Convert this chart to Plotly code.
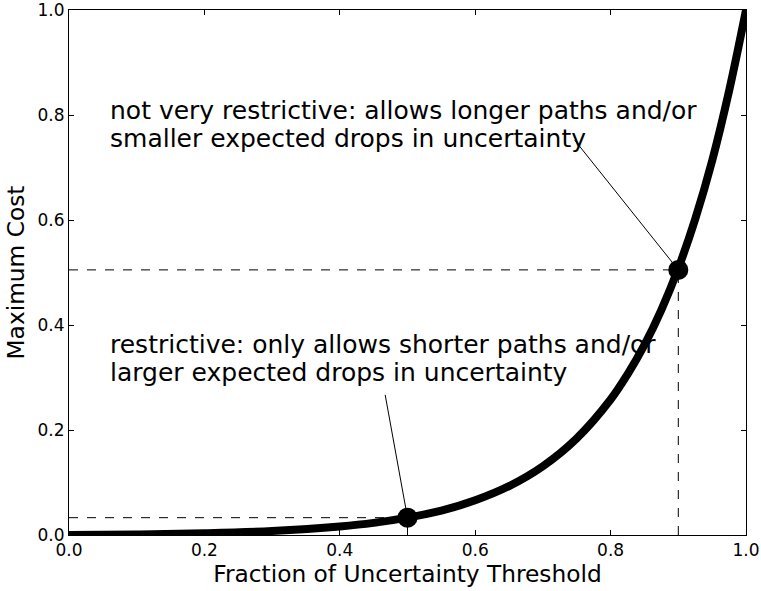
import plotly.graph_objects as go

# Curve values
frac = [0.0, 0.1, 0.2, 0.3, 0.4, 0.45, 0.5, 0.55, 0.6, 0.65, 0.7, 0.75, 0.8, 0.825, 0.85, 0.875, 0.9, 0.925, 0.95, 0.975, 1.0]
cost = [0.0, 0.0011, 0.0034, 0.0077, 0.0163, 0.0231, 0.0331, 0.0464, 0.0661, 0.0931, 0.131, 0.184, 0.258, 0.306, 0.362, 0.429, 0.508, 0.602, 0.713, 0.846, 1.0]

pts_x = [0.5, 0.9]
pts_y = [0.033, 0.505]

label1_lines = ["not very restrictive: allows longer paths and/or",
                "smaller expected drops in uncertainty"]
label2_lines = ["restrictive: only allows shorter paths and/or",
                "larger expected drops in uncertainty"]

x_ticks = [0.0, 0.2, 0.4, 0.6, 0.8, 1.0]
y_ticks = [0.0, 0.2, 0.4, 0.6, 0.8, 1.0]

FONT = "DejaVu Sans"

fig = go.Figure()
fig.add_trace(go.Scatter(x=frac, y=cost, mode="lines",
                         line=dict(color="black", width=8, shape="spline"),
                         showlegend=False, hoverinfo="skip"))
fig.add_trace(go.Scatter(x=pts_x, y=pts_y, mode="markers",
                         marker=dict(color="black", size=20),
                         showlegend=False, hoverinfo="skip"))

shapes = []
for px, py in zip(pts_x, pts_y):
    shapes.append(dict(type="line", xref="x", yref="y", x0=0, x1=px, y0=py, y1=py,
                       line=dict(color="black", width=1, dash="dash"), layer="below"))
    shapes.append(dict(type="line", xref="x", yref="y", x0=px, x1=px, y0=0, y1=py,
                       line=dict(color="black", width=1, dash="dash"), layer="below"))
# leader lines from labels to points
shapes.append(dict(type="line", xref="x", yref="y", x0=0.747, y0=0.752, x1=pts_x[1], y1=pts_y[1],
                   line=dict(color="black", width=1)))
shapes.append(dict(type="line", xref="x", yref="y", x0=0.467, y0=0.267, x1=pts_x[0], y1=pts_y[0],
                   line=dict(color="black", width=1)))

annotations = []
for lines, ys in ((label1_lines, (0.808, 0.755)), (label2_lines, (0.3629, 0.3086))):
    for txt, yy in zip(lines, ys):
        annotations.append(dict(x=0.0576, y=yy, xref="x", yref="y", text=txt, showarrow=False,
                                xanchor="left", yanchor="middle", align="left",
                                font=dict(family=FONT, size=25, color="black")))

fig.update_layout(
    template="none",
    width=761, height=591,
    margin=dict(l=69, r=15, t=10, b=56, autoexpand=False),
    plot_bgcolor="white", paper_bgcolor="white",
    font=dict(family=FONT, color="black"),
    shapes=shapes,
    annotations=annotations,
    xaxis=dict(range=[0, 1], tickvals=x_ticks, tickformat=".1f", automargin=False,
               ticklabeloverflow="allow",
               ticks="inside", ticklen=5, tickcolor="black", mirror="ticks",
               showline=True, linecolor="black", linewidth=1, showgrid=False, zeroline=False,
               tickfont=dict(family=FONT, size=17),
               title=dict(text="Fraction of Uncertainty Threshold", font=dict(family=FONT, size=23.3), standoff=2)),
    yaxis=dict(range=[0, 1], tickvals=y_ticks, tickformat=".1f", automargin=False,
               ticklabeloverflow="allow",
               ticks="inside", ticklen=5, tickcolor="black", mirror="ticks",
               showline=True, linecolor="black", linewidth=1, showgrid=False, zeroline=False,
               tickfont=dict(family=FONT, size=17),
               title=dict(text="Maximum Cost", font=dict(family=FONT, size=23.3), standoff=6)),
)

fig.write_html("out.html", config={"displayModeBar": False},
               post_script="document.body.style.margin='0';document.body.style.overflow='hidden';")
